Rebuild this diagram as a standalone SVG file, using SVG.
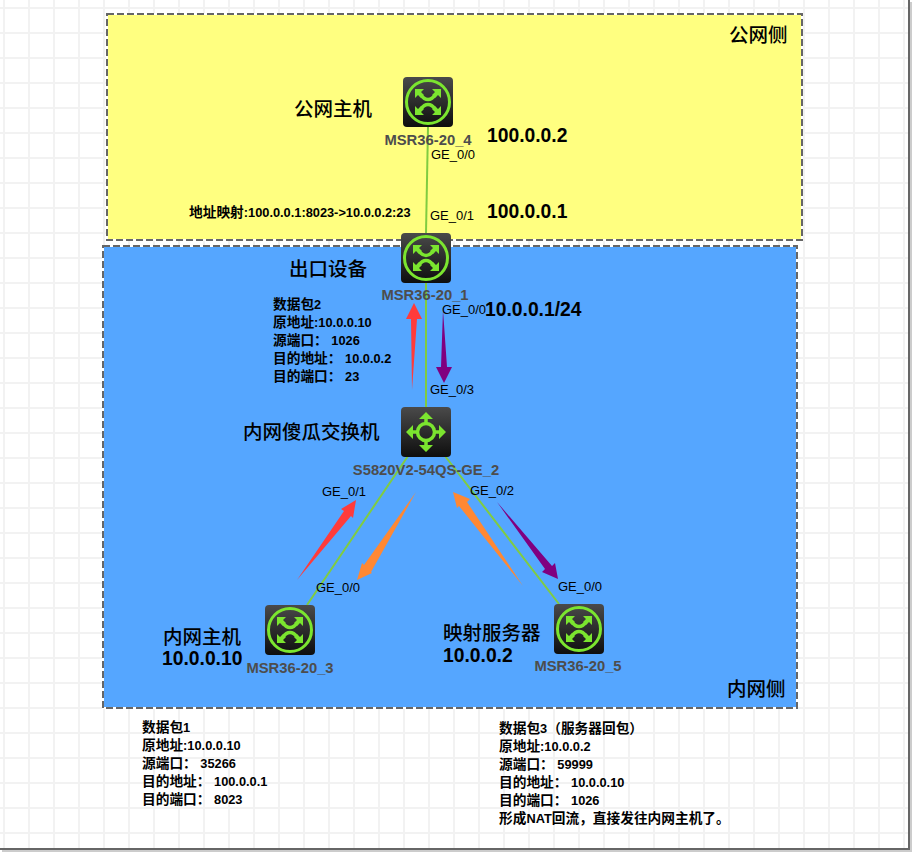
<svg xmlns="http://www.w3.org/2000/svg" width="912" height="852" viewBox="0 0 912 852">
<style>
.cn{font-family:"Liberation Serif","Noto Sans CJK SC",serif;font-weight:500;font-size:19.5px;fill:#000}
.note{font-family:"Liberation Sans","Noto Sans CJK SC",sans-serif;font-weight:700;font-size:12.8px;fill:#000}
.c{font-size:13.7px}
.dev{font-family:"Liberation Sans",sans-serif;font-weight:700;font-size:14.8px;fill:#4d4d4d;text-anchor:middle}
.port{font-family:"Liberation Sans",sans-serif;font-size:13px;fill:#000}
.ip{font-family:"Liberation Sans",sans-serif;font-weight:700;font-size:19.3px;fill:#000}
.grid{stroke:#f2f2f2;stroke-width:2;fill:none}
.zone{stroke:#666;stroke-width:2;stroke-dasharray:7 3;fill:none}
.zb{stroke:#fff;stroke-width:2}
.link{stroke:#80cc40;stroke-width:2;fill:none}
.ring{fill:none;stroke:#7be52f;stroke-width:3}
.g{fill:#7be52f}
.gl{stroke:#7be52f;stroke-width:3.5;fill:none}
</style>
<defs>
<linearGradient id="body" x1="0" y1="0" x2="0" y2="1"><stop offset="0" stop-color="#4a4a4a"/><stop offset="1" stop-color="#0e0e0e"/></linearGradient>
<g id="router">
<rect width="50" height="50" rx="4" fill="url(#body)"/>
<circle cx="25" cy="25" r="21.5" class="ring"/>
<path class="g" d="M12 12h9l-3 3 3 3-3 3-3-3-3 3zM38 12v9l-3-3-3 3-3-3 3-3-3-3zM12 38v-9l3 3 3-3 3 3-3 3 3 3zM38 38h-9l3-3-3-3 3-3 3 3 3-3z"/>
<path class="gl" d="M18 18C22 24 28 24 32 18M18 32C22 26 28 26 32 32"/>
</g>
<g id="switch">
<rect width="50" height="50" rx="4" fill="url(#body)"/>
<circle cx="25" cy="25" r="8.5" class="gl"/>
<path class="gl" d="M25 16V10M25 34v6M16 25H10M34 25h6"/>
<path class="g" d="M25 5l7 7H18zM25 45l-7-7h14zM5 25l7-7v14zM45 25l-7 7V18z"/>
</g>
</defs>
<rect width="912" height="852" fill="#fff"/>
<path class="grid" d="M4 0V848M29 0V848M54 0V848M79 0V848M104 0V848M129 0V848M154 0V848M179 0V848M204 0V848M229 0V848M254 0V848M279 0V848M304 0V848M329 0V848M354 0V848M379 0V848M404 0V848M429 0V848M454 0V848M479 0V848M504 0V848M529 0V848M554 0V848M579 0V848M604 0V848M629 0V848M654 0V848M679 0V848M704 0V848M729 0V848M754 0V848M779 0V848M804 0V848M829 0V848M854 0V848M879 0V848M904 0V848"/>
<path class="grid" d="M0 8H908M0 33H908M0 58H908M0 83H908M0 108H908M0 133H908M0 158H908M0 183H908M0 208H908M0 233H908M0 258H908M0 283H908M0 308H908M0 333H908M0 358H908M0 383H908M0 408H908M0 433H908M0 458H908M0 483H908M0 508H908M0 533H908M0 558H908M0 583H908M0 608H908M0 633H908M0 658H908M0 683H908M0 708H908M0 733H908M0 758H908M0 783H908M0 808H908M0 833H908"/>
<path d="M909 0V849H0" fill="none" stroke="#666" stroke-width="2"/>
<path d="M911 2V851H2" fill="none" stroke="#ccc" stroke-width="2"/>

<g id="zone-public">
<rect x="107" y="14" width="695" height="226" fill="#ffff80" class="zb"/>
<rect x="107" y="14" width="695" height="226" class="zone"/>
<text class="cn" x="729" y="42">公网侧</text>
</g>
<g id="zone-private">
<rect x="103" y="246" width="694" height="462" fill="#55a6ff" class="zb"/>
<rect x="103" y="246" width="694" height="462" class="zone"/>
<text class="cn" x="727" y="696">内网侧</text>
</g>

<g id="connectors">
<path class="link" d="M428 127L426 233"/>
<path class="link" d="M426 283V407"/>
<path class="link" d="M408 456L307 605"/>
<path class="link" d="M445 456L559 604"/>
</g>
<g id="flows">
<path fill="#ff3b3b" d="M412 390L411 319H406L414 303L422 319H417Z"/>
<path fill="#800080" d="M443 310L441 367H436L444 383L452 367H447Z"/>
<path fill="#ff3b3b" d="M297 580L344 511L341 509L356 500L353 518L351 516Z"/>
<path fill="#ff8833" d="M416 492L371 572L372 573L357 580L362 563L364 565Z"/>
<path fill="#ff8833" d="M523 586L459 506L457 508L453 492L470 499L467 502Z"/>
<path fill="#800080" d="M497 502L552 566L555 563L558 579L542 572L545 569Z"/>
</g>

<g id="node-msr4"><use href="#router" x="403" y="77"/><text class="dev" x="428" y="145">MSR36-20_4</text></g>
<g id="node-msr1"><use href="#router" x="401" y="233"/><text class="dev" x="425" y="300">MSR36-20_1</text></g>
<g id="node-switch"><use href="#switch" x="401" y="407"/><text class="dev" x="426" y="475">S5820V2-54QS-GE_2</text></g>
<g id="node-msr3"><use href="#router" x="265" y="605"/><text class="dev" x="290" y="673">MSR36-20_3</text></g>
<g id="node-msr5"><use href="#router" x="554" y="604"/><text class="dev" x="578" y="671">MSR36-20_5</text></g>

<g id="labels">
<text class="port" x="431" y="159">GE_0/0</text>
<text class="port" x="430" y="220">GE_0/1</text>
<text class="port" x="442" y="314">GE_0/0</text>
<text class="port" x="430" y="394">GE_0/3</text>
<text class="port" x="322" y="496">GE_0/1</text>
<text class="port" x="470" y="495">GE_0/2</text>
<text class="port" x="316" y="592">GE_0/0</text>
<text class="port" x="558" y="591">GE_0/0</text>
<text class="ip" x="487" y="142">100.0.0.2</text>
<text class="ip" x="487" y="218">100.0.0.1</text>
<text class="ip" x="485" y="316">10.0.0.1/24</text>
<text class="ip" x="162" y="665">10.0.0.10</text>
<text class="ip" x="443" y="662">10.0.0.2</text>
<text class="cn" x="294" y="116">公网主机</text>
<text class="cn" x="289" y="276">出口设备</text>
<text class="cn" x="243" y="439">内网傻瓜交换机</text>
<text class="cn" x="163" y="644">内网主机</text>
<text class="cn" x="443" y="640">映射服务器</text>
<text class="note" x="189" y="217"><tspan class="c">地址映射</tspan>:100.0.0.1:8023-&gt;10.0.0.2:23</text>
<text class="note" x="273" y="309"><tspan class="c">数据包</tspan>2</text>
<text class="note" x="273" y="327"><tspan class="c">原地址</tspan>:10.0.0.10</text>
<text class="note" x="273" y="345"><tspan class="c">源端口：</tspan> 1026</text>
<text class="note" x="273" y="363"><tspan class="c">目的地址：</tspan> 10.0.0.2</text>
<text class="note" x="273" y="381"><tspan class="c">目的端口：</tspan> 23</text>
<text class="note" x="142" y="732"><tspan class="c">数据包</tspan>1</text>
<text class="note" x="142" y="750"><tspan class="c">原地址</tspan>:10.0.0.10</text>
<text class="note" x="142" y="768"><tspan class="c">源端口：</tspan> 35266</text>
<text class="note" x="142" y="786"><tspan class="c">目的地址：</tspan> 100.0.0.1</text>
<text class="note" x="142" y="804"><tspan class="c">目的端口：</tspan> 8023</text>
<text class="note" x="499" y="733"><tspan class="c">数据包</tspan>3<tspan class="c">（服务器回包）</tspan></text>
<text class="note" x="499" y="751"><tspan class="c">原地址</tspan>:10.0.0.2</text>
<text class="note" x="499" y="769"><tspan class="c">源端口：</tspan> 59999</text>
<text class="note" x="499" y="787"><tspan class="c">目的地址：</tspan> 10.0.0.10</text>
<text class="note" x="499" y="805"><tspan class="c">目的端口：</tspan> 1026</text>
<text class="note" x="499" y="823"><tspan class="c">形成</tspan>NAT<tspan class="c">回流，直接发往内网主机了。</tspan></text>
</g>
</svg>
